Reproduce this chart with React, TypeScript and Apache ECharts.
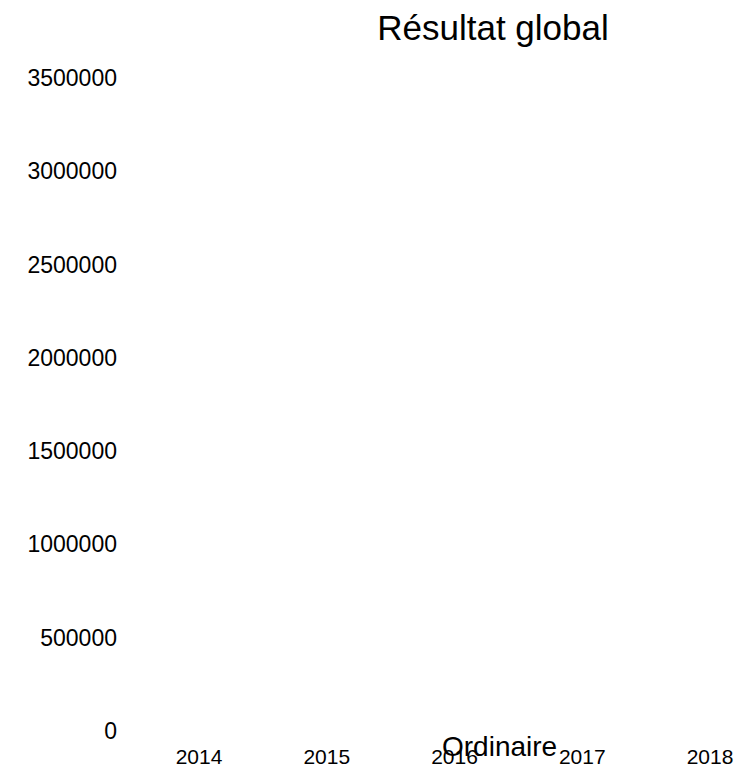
import React, { useEffect, useRef } from "react";
import * as echarts from "echarts";

const years = ["2014", "2015", "2016", "2017", "2018"];
const ordinaire: (number | null)[] = [null, null, null, null, null];
const yMax = 3500000;
const yStep = 500000;

export default function App() {
  const ref = useRef<HTMLDivElement>(null);
  useEffect(() => {
    if (!ref.current) return;
    const chart = echarts.init(ref.current, undefined, { renderer: "svg" });
    const font = "Liberation Sans, Arial, sans-serif";
    chart.setOption({
      animation: false,
      backgroundColor: "#ffffff",
      title: {
        text: "Résultat global",
        left: 488,
        textAlign: "center",
        top: 5,
        textStyle: { fontFamily: font, fontSize: 35, fontWeight: "normal", color: "#000" },
      },
      legend: {
        data: [{ name: "Ordinaire", icon: "none" }],
        left: 437,
        top: 732,
        itemWidth: 0,
        itemGap: 0,
        padding: 0,
        textStyle: { fontFamily: font, fontSize: 28, color: "#000", padding: 0 },
      },
      grid: { left: 199, right: 32, top: 78, bottom: 41, containLabel: false },
      xAxis: {
        type: "category",
        data: years,
        boundaryGap: false,
        axisLine: { show: false },
        axisTick: { show: false },
        axisLabel: { margin: 15, fontFamily: font, fontSize: 21, color: "#000" },
      },
      yAxis: {
        type: "value",
        min: 0,
        max: yMax,
        interval: yStep,
        axisLine: { show: false },
        axisTick: { show: false },
        splitLine: { show: false },
        axisLabel: {
          margin: 82,
          fontFamily: font,
          fontSize: 23,
          color: "#000",
          formatter: (v: number) => String(v),
        },
      },
      series: [
        {
          name: "Ordinaire",
          type: "bar",
          data: ordinaire,
          itemStyle: { color: "#4f81bd" },
        },
      ],
    });
    return () => chart.dispose();
  }, []);
  return <div ref={ref} style={{ width: 742, height: 772, margin: -8 }} />;
}
